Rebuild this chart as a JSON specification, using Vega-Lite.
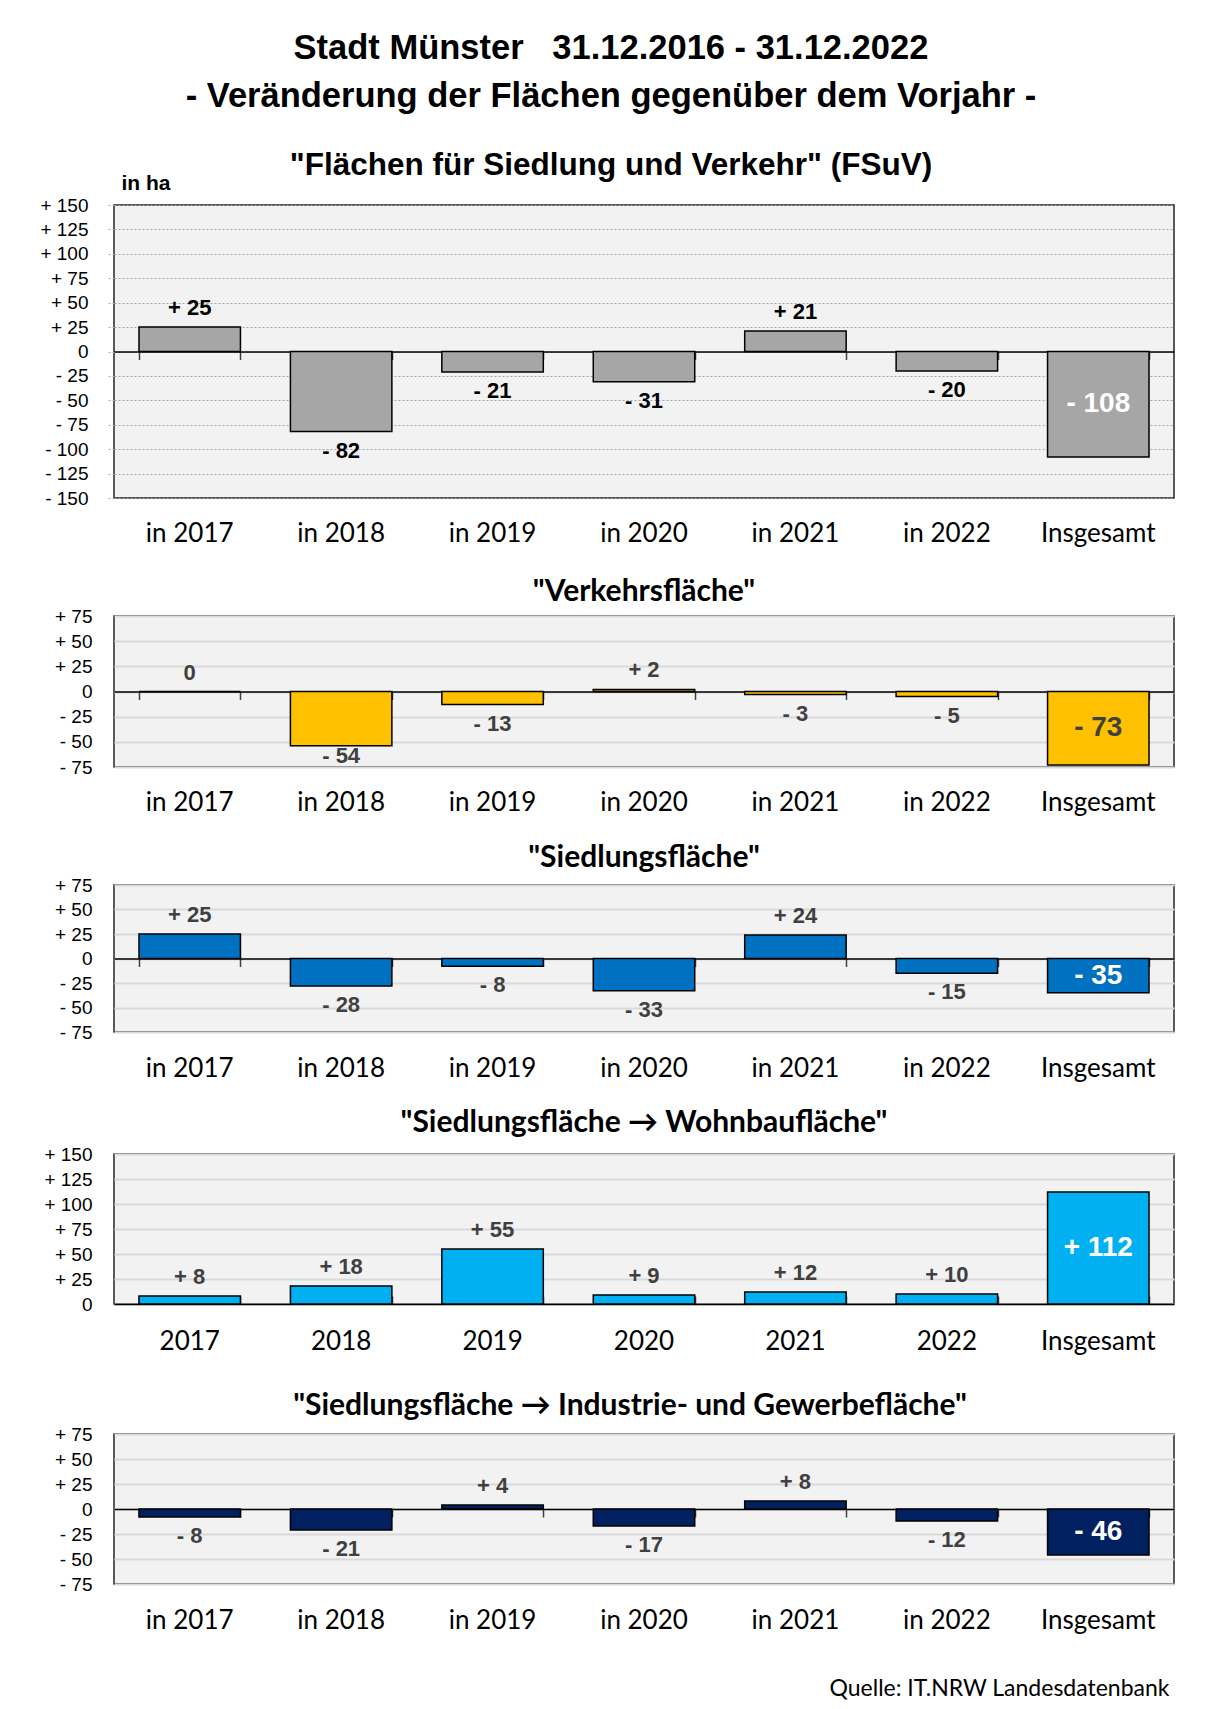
{
  "$schema": "https://vega.github.io/schema/vega-lite/v6.json",
  "background": "white",
  "padding": {"left": 39, "top": 31, "right": 10, "bottom": 5},
  "spacing": 25,
  "config": {
    "view": {"fill": "#F2F2F2", "stroke": "#262626", "strokeWidth": 1.5},
    "font": "Liberation Sans",
    "axisY": {
      "labelOverlap": false,
      "labelExpr": "datum.value > 0 ? '+ ' + datum.value : datum.value < 0 ? '- ' + abs(datum.value) : '0'",
      "labelFont": "Liberation Sans", "labelFontSize": 19, "labelColor": "black", "labelPadding": 22,
      "domain": false, "ticks": false, "grid": true, "gridColor": "#D9D9D9", "gridWidth": 2
    }
  },
  "title": {
    "text": ["Stadt Münster\u00a0\u00a0 31.12.2016 - 31.12.2022", "- Veränderung der Flächen gegenüber dem Vorjahr -"],
    "font": "Liberation Sans", "fontSize": 34.5, "fontWeight": "bold", "color": "black",
    "lineHeight": 48, "anchor": "middle", "offset": 34, "dx": 4
  },
  "datasets": {
    "d": [
      {"p": 1, "cat": "in 2017", "v": 25, "lab": "+ 25"},
      {"p": 1, "cat": "in 2018", "v": -82, "lab": "- 82"},
      {"p": 1, "cat": "in 2019", "v": -21, "lab": "- 21"},
      {"p": 1, "cat": "in 2020", "v": -31, "lab": "- 31"},
      {"p": 1, "cat": "in 2021", "v": 21, "lab": "+ 21"},
      {"p": 1, "cat": "in 2022", "v": -20, "lab": "- 20"},
      {"p": 1, "cat": "Insgesamt", "v": -108, "lab": "- 108"},
      {"p": 2, "cat": "in 2017", "v": 0, "lab": "0"},
      {"p": 2, "cat": "in 2018", "v": -54, "lab": "- 54"},
      {"p": 2, "cat": "in 2019", "v": -13, "lab": "- 13"},
      {"p": 2, "cat": "in 2020", "v": 2, "lab": "+ 2"},
      {"p": 2, "cat": "in 2021", "v": -3, "lab": "- 3"},
      {"p": 2, "cat": "in 2022", "v": -5, "lab": "- 5"},
      {"p": 2, "cat": "Insgesamt", "v": -73, "lab": "- 73"},
      {"p": 3, "cat": "in 2017", "v": 25, "lab": "+ 25"},
      {"p": 3, "cat": "in 2018", "v": -28, "lab": "- 28"},
      {"p": 3, "cat": "in 2019", "v": -8, "lab": "- 8"},
      {"p": 3, "cat": "in 2020", "v": -33, "lab": "- 33"},
      {"p": 3, "cat": "in 2021", "v": 24, "lab": "+ 24"},
      {"p": 3, "cat": "in 2022", "v": -15, "lab": "- 15"},
      {"p": 3, "cat": "Insgesamt", "v": -35, "lab": "- 35"},
      {"p": 4, "cat": "2017", "v": 8, "lab": "+ 8"},
      {"p": 4, "cat": "2018", "v": 18, "lab": "+ 18"},
      {"p": 4, "cat": "2019", "v": 55, "lab": "+ 55"},
      {"p": 4, "cat": "2020", "v": 9, "lab": "+ 9"},
      {"p": 4, "cat": "2021", "v": 12, "lab": "+ 12"},
      {"p": 4, "cat": "2022", "v": 10, "lab": "+ 10"},
      {"p": 4, "cat": "Insgesamt", "v": 112, "lab": "+ 112"},
      {"p": 5, "cat": "in 2017", "v": -8, "lab": "- 8"},
      {"p": 5, "cat": "in 2018", "v": -21, "lab": "- 21"},
      {"p": 5, "cat": "in 2019", "v": 4, "lab": "+ 4"},
      {"p": 5, "cat": "in 2020", "v": -17, "lab": "- 17"},
      {"p": 5, "cat": "in 2021", "v": 8, "lab": "+ 8"},
      {"p": 5, "cat": "in 2022", "v": -12, "lab": "- 12"},
      {"p": 5, "cat": "Insgesamt", "v": -46, "lab": "- 46"}
    ]
  },
  "vconcat": [
    {
      "width": 1060, "height": 293,
      "title": {"text": "\"Flächen für Siedlung und Verkehr\" (FSuV)", "font": "Liberation Sans", "fontSize": 31.5, "fontWeight": "bold", "color": "black", "offset": -9, "dx": -33},
      "data": {"name": "d"},
      "transform": [{"filter": "datum.p == 1"}, {"calculate": "datum.v / 2", "as": "mid"}],
      "resolve": {"axis": {"x": "independent"}},
      "layer": [
        {
          "mark": {"type": "bar", "color": "#A6A6A6", "stroke": "black", "strokeWidth": 1.5},
          "encoding": {
            "x": {"field": "cat", "type": "nominal", "sort": null,
              "scale": {"domain": ["in 2017", "in 2018", "in 2019", "in 2020", "in 2021", "in 2022", "Insgesamt"], "paddingInner": 0.33, "paddingOuter": 0.165},
              "axis": {"orient": "bottom", "title": " ", "titleFontSize": 4, "titleY": 52, "titleBaseline": "bottom", "titleColor": "white",
                "labelAngle": 0, "domain": false, "ticks": false, "grid": false, "labelFont": "Lato", "labelFontSize": 26, "labelColor": "black", "labelPadding": 22}},
            "y": {"field": "v", "type": "quantitative", "title": "in ha",
              "scale": {"domain": [-150, 150], "nice": false},
              "axis": {"values": [-150, -125, -100, -75, -50, -25, 0, 25, 50, 75, 100, 125, 150], "labelPadding": 20,
                "ticks": true, "tickSize": 6, "tickColor": "#A6A6A6", "tickDash": [2, 2], "tickWidth": 1,
                "gridColor": "#A6A6A6", "gridDash": [2, 2], "gridWidth": 1,
                "titleAngle": 0, "titleX": 7, "titleY": -22, "titleAlign": "left", "titleBaseline": "middle",
                "titleFont": "Liberation Sans", "titleFontSize": 21, "titleFontWeight": "bold", "titleColor": "black"}}
          }
        },
        {
          "transform": [{"filter": "datum.cat != 'Insgesamt' && datum.v >= 0"}],
          "mark": {"type": "text", "font": "Liberation Sans", "fontSize": 22, "fontWeight": "bold", "color": "black", "baseline": "middle", "dy": -19},
          "encoding": {
            "x": {"field": "cat", "type": "nominal", "sort": null,
              "axis": {"orient": "bottom", "title": null, "labels": false, "offset": -146.5, "domain": true, "domainColor": "black", "domainWidth": 1.5, "ticks": true, "tickBand": "extent", "tickSize": 8, "tickColor": "#404040", "tickWidth": 1.5, "grid": false}},
            "y": {"field": "v", "type": "quantitative", "title": "in ha",
              "axis": {"values": [-150, -125, -100, -75, -50, -25, 0, 25, 50, 75, 100, 125, 150], "labelPadding": 20,
                "ticks": true, "tickSize": 6, "tickColor": "#A6A6A6", "tickDash": [2, 2], "tickWidth": 1,
                "gridColor": "#A6A6A6", "gridDash": [2, 2], "gridWidth": 1,
                "titleAngle": 0, "titleX": 7, "titleY": -22, "titleAlign": "left", "titleBaseline": "middle",
                "titleFont": "Liberation Sans", "titleFontSize": 21, "titleFontWeight": "bold", "titleColor": "black"}},
            "text": {"field": "lab"}
          }
        },
        {
          "transform": [{"filter": "datum.cat != 'Insgesamt' && datum.v < 0"}],
          "mark": {"type": "text", "font": "Liberation Sans", "fontSize": 22, "fontWeight": "bold", "color": "black", "baseline": "middle", "dy": 19},
          "encoding": {
            "x": {"field": "cat", "type": "nominal", "sort": null, "axis": null},
            "y": {"field": "v", "type": "quantitative", "title": "in ha",
              "axis": {"values": [-150, -125, -100, -75, -50, -25, 0, 25, 50, 75, 100, 125, 150], "labelPadding": 20,
                "ticks": true, "tickSize": 6, "tickColor": "#A6A6A6", "tickDash": [2, 2], "tickWidth": 1,
                "gridColor": "#A6A6A6", "gridDash": [2, 2], "gridWidth": 1,
                "titleAngle": 0, "titleX": 7, "titleY": -22, "titleAlign": "left", "titleBaseline": "middle",
                "titleFont": "Liberation Sans", "titleFontSize": 21, "titleFontWeight": "bold", "titleColor": "black"}},
            "text": {"field": "lab"}
          }
        },
        {
          "transform": [{"filter": "datum.cat == 'Insgesamt'"}],
          "mark": {"type": "text", "font": "Liberation Sans", "fontSize": 28, "fontWeight": "bold", "color": "white", "baseline": "middle"},
          "encoding": {
            "x": {"field": "cat", "type": "nominal", "sort": null, "axis": null},
            "y": {"field": "mid", "type": "quantitative", "title": "in ha",
              "axis": {"values": [-150, -125, -100, -75, -50, -25, 0, 25, 50, 75, 100, 125, 150], "labelPadding": 20,
                "ticks": true, "tickSize": 6, "tickColor": "#A6A6A6", "tickDash": [2, 2], "tickWidth": 1,
                "gridColor": "#A6A6A6", "gridDash": [2, 2], "gridWidth": 1,
                "titleAngle": 0, "titleX": 7, "titleY": -22, "titleAlign": "left", "titleBaseline": "middle",
                "titleFont": "Liberation Sans", "titleFontSize": 21, "titleFontWeight": "bold", "titleColor": "black"}},
            "text": {"field": "lab"}
          }
        }
      ]
    },
    {
      "width": 1060, "height": 151,
      "title": {"text": "\"Verkehrsfläche\"", "font": "Lato", "fontSize": 30, "fontWeight": "bold", "color": "black", "offset": 0},
      "data": {"name": "d"},
      "transform": [{"filter": "datum.p == 2"}, {"calculate": "datum.v / 2", "as": "mid"}],
      "resolve": {"axis": {"x": "independent"}},
      "layer": [
        {
          "mark": {"type": "bar", "color": "#FFC000", "stroke": "black", "strokeWidth": 1.5},
          "encoding": {
            "x": {"field": "cat", "type": "nominal", "sort": null,
              "scale": {"domain": ["in 2017", "in 2018", "in 2019", "in 2020", "in 2021", "in 2022", "Insgesamt"], "paddingInner": 0.33, "paddingOuter": 0.165},
              "axis": {"orient": "bottom", "title": null, "labelAngle": 0, "domain": false, "ticks": false, "grid": false, "labelFont": "Lato", "labelFontSize": 26, "labelColor": "black", "labelPadding": 22}},
            "y": {"field": "v", "type": "quantitative", "title": null,
              "scale": {"domain": [-75, 75], "nice": false},
              "axis": {"values": [-75, -50, -25, 0, 25, 50, 75]}}
          }
        },
        {
          "transform": [{"filter": "datum.cat != 'Insgesamt' && datum.v >= 0"}],
          "mark": {"type": "text", "font": "Liberation Sans", "fontSize": 22, "fontWeight": "bold", "color": "#404040", "baseline": "middle", "dy": -19},
          "encoding": {
            "x": {"field": "cat", "type": "nominal", "sort": null,
              "axis": {"orient": "bottom", "title": null, "labels": false, "offset": -75.5, "domain": true, "domainColor": "black", "domainWidth": 1.5, "ticks": true, "tickBand": "extent", "tickSize": 8, "tickColor": "#404040", "tickWidth": 1.5, "grid": false}},
            "y": {"field": "v", "type": "quantitative", "title": null, "axis": {"values": [-75, -50, -25, 0, 25, 50, 75]}},
            "text": {"field": "lab"}
          }
        },
        {
          "transform": [{"filter": "datum.cat != 'Insgesamt' && datum.v < 0 && datum.v >= -50"}],
          "mark": {"type": "text", "font": "Liberation Sans", "fontSize": 22, "fontWeight": "bold", "color": "#404040", "baseline": "middle", "dy": 19},
          "encoding": {
            "x": {"field": "cat", "type": "nominal", "sort": null, "axis": null},
            "y": {"field": "v", "type": "quantitative", "title": null, "axis": {"values": [-75, -50, -25, 0, 25, 50, 75]}},
            "text": {"field": "lab"}
          }
        },
        {
          "transform": [{"filter": "datum.cat != 'Insgesamt' && datum.v < -50"}],
          "mark": {"type": "text", "font": "Liberation Sans", "fontSize": 22, "fontWeight": "bold", "color": "#404040", "baseline": "middle", "dy": 10},
          "encoding": {
            "x": {"field": "cat", "type": "nominal", "sort": null, "axis": null},
            "y": {"field": "v", "type": "quantitative", "title": null, "axis": {"values": [-75, -50, -25, 0, 25, 50, 75]}},
            "text": {"field": "lab"}
          }
        },
        {
          "transform": [{"filter": "datum.cat == 'Insgesamt'"}],
          "mark": {"type": "text", "font": "Liberation Sans", "fontSize": 28, "fontWeight": "bold", "color": "#404040", "baseline": "middle"},
          "encoding": {
            "x": {"field": "cat", "type": "nominal", "sort": null, "axis": null},
            "y": {"field": "mid", "type": "quantitative", "title": null, "axis": {"values": [-75, -50, -25, 0, 25, 50, 75]}},
            "text": {"field": "lab"}
          }
        }
      ]
    },
    {
      "width": 1060, "height": 147,
      "title": {"text": "\"Siedlungsfläche\"", "font": "Lato", "fontSize": 30, "fontWeight": "bold", "color": "black", "offset": 3.5},
      "data": {"name": "d"},
      "transform": [{"filter": "datum.p == 3"}, {"calculate": "datum.v / 2", "as": "mid"}],
      "resolve": {"axis": {"x": "independent"}},
      "layer": [
        {
          "mark": {"type": "bar", "color": "#0070C0", "stroke": "black", "strokeWidth": 1.5},
          "encoding": {
            "x": {"field": "cat", "type": "nominal", "sort": null,
              "scale": {"domain": ["in 2017", "in 2018", "in 2019", "in 2020", "in 2021", "in 2022", "Insgesamt"], "paddingInner": 0.33, "paddingOuter": 0.165},
              "axis": {"orient": "bottom", "title": null, "labelAngle": 0, "domain": false, "ticks": false, "grid": false, "labelFont": "Lato", "labelFontSize": 26, "labelColor": "black", "labelPadding": 23}},
            "y": {"field": "v", "type": "quantitative", "title": null,
              "scale": {"domain": [-75, 75], "nice": false},
              "axis": {"values": [-75, -50, -25, 0, 25, 50, 75]}}
          }
        },
        {
          "transform": [{"filter": "datum.cat != 'Insgesamt' && datum.v >= 0"}],
          "mark": {"type": "text", "font": "Liberation Sans", "fontSize": 22, "fontWeight": "bold", "color": "#404040", "baseline": "middle", "dy": -19},
          "encoding": {
            "x": {"field": "cat", "type": "nominal", "sort": null,
              "axis": {"orient": "bottom", "title": null, "labels": false, "offset": -73.5, "domain": true, "domainColor": "black", "domainWidth": 1.5, "ticks": true, "tickBand": "extent", "tickSize": 8, "tickColor": "#404040", "tickWidth": 1.5, "grid": false}},
            "y": {"field": "v", "type": "quantitative", "title": null, "axis": {"values": [-75, -50, -25, 0, 25, 50, 75]}},
            "text": {"field": "lab"}
          }
        },
        {
          "transform": [{"filter": "datum.cat != 'Insgesamt' && datum.v < 0"}],
          "mark": {"type": "text", "font": "Liberation Sans", "fontSize": 22, "fontWeight": "bold", "color": "#404040", "baseline": "middle", "dy": 19},
          "encoding": {
            "x": {"field": "cat", "type": "nominal", "sort": null, "axis": null},
            "y": {"field": "v", "type": "quantitative", "title": null, "axis": {"values": [-75, -50, -25, 0, 25, 50, 75]}},
            "text": {"field": "lab"}
          }
        },
        {
          "transform": [{"filter": "datum.cat == 'Insgesamt'"}],
          "mark": {"type": "text", "font": "Liberation Sans", "fontSize": 28, "fontWeight": "bold", "color": "white", "baseline": "middle"},
          "encoding": {
            "x": {"field": "cat", "type": "nominal", "sort": null, "axis": null},
            "y": {"field": "mid", "type": "quantitative", "title": null, "axis": {"values": [-75, -50, -25, 0, 25, 50, 75]}},
            "text": {"field": "lab"}
          }
        }
      ]
    },
    {
      "width": 1060, "height": 150,
      "title": {"text": "\"Siedlungsfläche → Wohnbaufläche\"", "font": "Lato", "fontSize": 30, "fontWeight": "bold", "color": "black", "offset": 7},
      "data": {"name": "d"},
      "transform": [{"filter": "datum.p == 4"}, {"calculate": "datum.v / 2", "as": "mid"}],
      "resolve": {"axis": {"x": "independent"}},
      "layer": [
        {
          "mark": {"type": "bar", "color": "#00B0F0", "stroke": "black", "strokeWidth": 1.5},
          "encoding": {
            "x": {"field": "cat", "type": "nominal", "sort": null,
              "scale": {"domain": ["2017", "2018", "2019", "2020", "2021", "2022", "Insgesamt"], "paddingInner": 0.33, "paddingOuter": 0.165},
              "axis": {"orient": "bottom", "title": " ", "titleFontSize": 4, "titleY": 59, "titleBaseline": "bottom", "titleColor": "white",
                "labelAngle": 0, "domain": false, "ticks": false, "grid": false, "labelFont": "Lato", "labelFontSize": 26, "labelColor": "black", "labelPadding": 24}},
            "y": {"field": "v", "type": "quantitative", "title": null,
              "scale": {"domain": [0, 150], "nice": false},
              "axis": {"values": [0, 25, 50, 75, 100, 125, 150]}}
          }
        },
        {
          "transform": [{"filter": "datum.cat != 'Insgesamt' && datum.v >= 0"}],
          "mark": {"type": "text", "font": "Liberation Sans", "fontSize": 22, "fontWeight": "bold", "color": "#404040", "baseline": "middle", "dy": -19},
          "encoding": {
            "x": {"field": "cat", "type": "nominal", "sort": null,
              "axis": {"orient": "top", "title": null, "labels": false, "offset": -150, "domain": true, "domainColor": "black", "domainWidth": 1.5, "ticks": true, "tickBand": "extent", "tickSize": 8, "tickColor": "#404040", "tickWidth": 1.5, "grid": false}},
            "y": {"field": "v", "type": "quantitative", "title": null, "axis": {"values": [0, 25, 50, 75, 100, 125, 150]}},
            "text": {"field": "lab"}
          }
        },
        {
          "transform": [{"filter": "datum.cat == 'Insgesamt'"}],
          "mark": {"type": "text", "font": "Liberation Sans", "fontSize": 28, "fontWeight": "bold", "color": "white", "baseline": "middle"},
          "encoding": {
            "x": {"field": "cat", "type": "nominal", "sort": null, "axis": null},
            "y": {"field": "mid", "type": "quantitative", "title": null, "axis": {"values": [0, 25, 50, 75, 100, 125, 150]}},
            "text": {"field": "lab"}
          }
        }
      ]
    },
    {
      "width": 1060, "height": 150,
      "title": {"text": "\"Siedlungsfläche → Industrie- und Gewerbefläche\"", "font": "Lato", "fontSize": 30, "fontWeight": "bold", "color": "black", "offset": 4.5, "dx": -14},
      "data": {"name": "d"},
      "transform": [{"filter": "datum.p == 5"}, {"calculate": "datum.v / 2", "as": "mid"}],
      "resolve": {"axis": {"x": "independent"}},
      "layer": [
        {
          "mark": {"type": "bar", "color": "#002060", "stroke": "black", "strokeWidth": 1.5},
          "encoding": {
            "x": {"field": "cat", "type": "nominal", "sort": null,
              "scale": {"domain": ["in 2017", "in 2018", "in 2019", "in 2020", "in 2021", "in 2022", "Insgesamt"], "paddingInner": 0.33, "paddingOuter": 0.165},
              "axis": {"orient": "bottom", "title": "Quelle: IT.NRW Landesdatenbank", "labelAngle": 0, "domain": false, "ticks": false, "grid": false, "labelFont": "Lato", "labelFontSize": 26, "labelColor": "black", "labelPadding": 23,
                "titleFont": "Lato", "titleFontSize": 23, "titleFontWeight": "normal", "titleColor": "black", "titleAnchor": "end", "titleAlign": "right", "titleX": 1055, "titleY": 104, "titleBaseline": "middle"}},
            "y": {"field": "v", "type": "quantitative", "title": null,
              "scale": {"domain": [-75, 75], "nice": false},
              "axis": {"values": [-75, -50, -25, 0, 25, 50, 75]}}
          }
        },
        {
          "transform": [{"filter": "datum.cat != 'Insgesamt' && datum.v >= 0"}],
          "mark": {"type": "text", "font": "Liberation Sans", "fontSize": 22, "fontWeight": "bold", "color": "#404040", "baseline": "middle", "dy": -19},
          "encoding": {
            "x": {"field": "cat", "type": "nominal", "sort": null,
              "axis": {"orient": "bottom", "title": null, "labels": false, "offset": -75, "domain": true, "domainColor": "black", "domainWidth": 1.5, "ticks": true, "tickBand": "extent", "tickSize": 8, "tickColor": "#404040", "tickWidth": 1.5, "grid": false}},
            "y": {"field": "v", "type": "quantitative", "title": null, "axis": {"values": [-75, -50, -25, 0, 25, 50, 75]}},
            "text": {"field": "lab"}
          }
        },
        {
          "transform": [{"filter": "datum.cat != 'Insgesamt' && datum.v < 0"}],
          "mark": {"type": "text", "font": "Liberation Sans", "fontSize": 22, "fontWeight": "bold", "color": "#404040", "baseline": "middle", "dy": 19},
          "encoding": {
            "x": {"field": "cat", "type": "nominal", "sort": null, "axis": null},
            "y": {"field": "v", "type": "quantitative", "title": null, "axis": {"values": [-75, -50, -25, 0, 25, 50, 75]}},
            "text": {"field": "lab"}
          }
        },
        {
          "transform": [{"filter": "datum.cat == 'Insgesamt'"}],
          "mark": {"type": "text", "font": "Liberation Sans", "fontSize": 28, "fontWeight": "bold", "color": "white", "baseline": "middle"},
          "encoding": {
            "x": {"field": "cat", "type": "nominal", "sort": null, "axis": null},
            "y": {"field": "mid", "type": "quantitative", "title": null, "axis": {"values": [-75, -50, -25, 0, 25, 50, 75]}},
            "text": {"field": "lab"}
          }
        }
      ]
    }
  ]
}
